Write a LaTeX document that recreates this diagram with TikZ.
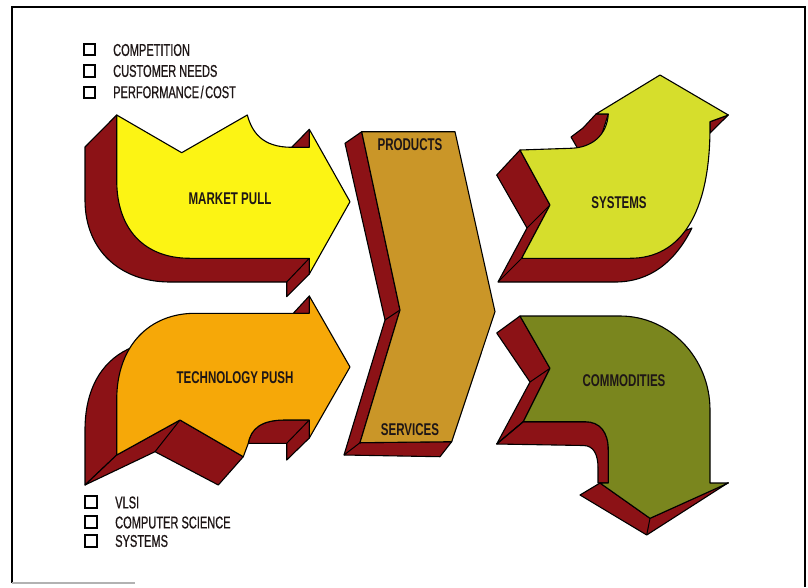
\documentclass[tikz,border=0pt]{standalone}
\usepackage{fontspec}
\setmainfont{Liberation Sans}
\newfontfamily\itemff{Liberation Sans}[FakeStretch=0.65,FakeBold=0.7]
\newfontfamily\labff{Liberation Sans}[FakeStretch=0.68]
\definecolor{maroon}{RGB}{140,18,22}
\definecolor{mpyellow}{RGB}{252,244,20}
\definecolor{tporange}{RGB}{246,168,8}
\definecolor{ctan}{RGB}{202,150,40}
\definecolor{sysgreen}{RGB}{214,222,44}
\definecolor{comolive}{RGB}{122,134,30}
\definecolor{txt}{RGB}{30,22,22}
\newcommand\itemfont{\itemff\fontsize{17}{17}\selectfont}
\newcommand\labfont{\labff\bfseries\fontsize{17}{17}\selectfont}
\tikzset{
  side/.style={fill=maroon,draw=black,line width=1.1pt,line join=round},
  face/.style={draw=black,line width=1.1pt,line join=round},
  edgeline/.style={draw=black,line width=1pt},
  lab/.style={font=\labfont,text=txt,inner sep=0pt},
  itemtext/.style={font=\itemfont,text=txt,inner sep=0pt,anchor=west},
  cbox/.style={draw=black,line width=1.6pt,minimum size=11.5pt,inner sep=0pt}
}
\begin{document}
\begin{tikzpicture}[x=1pt,y=-1pt]
\useasboundingbox (0,0) rectangle (808,587);
\fill[white] (0,0) rectangle (808,587);
% frame
\draw[line width=1.2pt] (12,583) -- (12,7) -- (805,7) -- (805,587);
\draw[gray!60,line width=1.5pt] (12,583) -- (135,583);

% ---------- MARKET PULL ----------
\draw[side] (116.7,115) -- (85,147) -- (85,200) .. controls (85,250) and (120,282) .. (170,282)
  -- (286.7,282) -- (286.7,296.7) -- (309.3,274) -- (309.3,258.3) -- (220,230) -- (140,150) -- cycle;
\draw[side] (291.7,147.3) -- (309.3,129.3) -- (309.3,147.3) -- cycle;
\draw[edgeline] (309.3,258.3) -- (286.7,282);
\draw[face,fill=mpyellow] (116.7,115) -- (181.7,152.7) -- (247.3,115)
  .. controls (252,132) and (262,147.3) .. (291.7,147.3) -- (309.3,147.3) -- (309.3,129.3)
  -- (350,201.7) -- (309.3,274) -- (309.3,258.3) -- (190,258.3)
  .. controls (145,258.3) and (116.7,230) .. (116.7,180) -- cycle;
\node[lab] (mp) at (230,199) {MARKET PULL};

% ---------- TECHNOLOGY PUSH ----------
\draw[side] (85,485) -- (85,430) .. controls (85,385) and (105,358) .. (133,347) -- (160,400) -- (116.7,455) -- cycle;
\draw[side] (85,485) -- (155,451.7) -- (218.3,485) -- (243.3,456.7) -- (180,420) -- (116.7,455) -- cycle;
\draw[edgeline] (180,420) -- (155,451.7);
\draw[side] (248.3,443.3) .. controls (251,428) and (262,420) .. (285,420) -- (309.3,420) -- (309.3,438)
  -- (286.7,460) -- (286.7,443.3) -- cycle;
\draw[edgeline] (309.3,420) -- (286.7,443.3);
\draw[side] (293.3,313.3) -- (309.3,296) -- (309.3,313.3) -- cycle;
\draw[face,fill=tporange] (116.7,455) -- (180,420) -- (243.3,456.7) -- (248.3,443.3)
  .. controls (251,428) and (262,420) .. (285,420) -- (309.3,420) -- (309.3,438)
  -- (350,367) -- (309.3,296) -- (309.3,313.3) -- (195,313.3)
  .. controls (150,313.3) and (116.7,345) .. (116.7,400) -- cycle;
\node[lab] (tp) at (235,378) {TECHNOLOGY PUSH};

% ---------- CENTRE CHEVRON ----------
\draw[side] (361.7,131.7) -- (345,143.3) -- (385,320) -- (344,455) -- (440,456.7) -- (451.7,441.7)
  -- (360,442.7) -- (400,310) -- cycle;
\draw[edgeline] (400,310) -- (385,320);
\draw[edgeline] (360,442.7) -- (344,455);
\draw[face,fill=ctan] (361.7,131.7) -- (455,131.7) -- (495,311.7) -- (451.7,441.7) -- (360,442.7) -- (400,310) -- cycle;
\node[lab] (prod) at (410,145) {PRODUCTS};
\node[lab] (serv) at (410,430) {SERVICES};

% ---------- SYSTEMS ----------
\draw[side] (520,150) -- (496.7,175) -- (527,228) -- (498,282) -- (615,282)
  .. controls (650,282) and (675,262) .. (692,228) -- (660,240) -- (521.7,258.3) -- (550,205) -- cycle;
\draw[edgeline] (550,205) -- (527,228);
\draw[edgeline] (521.7,258.3) -- (498,282);
\draw[side] (596,114) -- (608.3,114) -- (600,140) -- (578,149) -- (571,137) -- (583,128) -- cycle;
\draw[side] (728.3,115) -- (710,133) -- (710,121.7) -- cycle;
\draw[face,fill=sysgreen] (520,150) -- (570,148.3) .. controls (592,148) and (607,135) .. (608.3,114)
  -- (596,114) -- (660,75) -- (728.3,115) -- (710,121.7) -- (710,127)
  .. controls (710,215) and (680,258.3) .. (630,258.3) -- (521.7,258.3) -- (550,205) -- cycle;
\node[lab] (sys) at (619,202.5) {SYSTEMS};

% ---------- COMMODITIES ----------
\draw[side] (520,316) -- (496.7,333) -- (530,382) -- (496.7,444) -- (523.3,421.7) -- (550,368.3) -- cycle;
\draw[edgeline] (550,368.3) -- (530,382);
\draw[side] (523.3,421.7) -- (496.7,444) -- (583.3,445.5) .. controls (594,445.5) and (598,455) .. (598,468)
  -- (598,483) -- (608.3,483) -- (608.3,450) .. controls (608.3,432) and (600,421.7) .. (585,421.7) -- cycle;
\draw[edgeline] (523.3,421.7) -- (496.7,444);
\draw[side] (600,483) -- (580,495) -- (646.7,535) -- (728.3,482.7) -- (650,518.3) -- cycle;
\draw[edgeline] (650,518.3) -- (646.7,535);
\draw[face,fill=comolive] (520,316) -- (620,316) .. controls (669.7,316) and (710,358) .. (710,410)
  -- (710,483) -- (728.3,483) -- (650,518.3) -- (600,483) -- (608.3,483) -- (608.3,450)
  .. controls (608.3,432) and (600,421.7) .. (585,421.7) -- (523.3,421.7) -- (550,368.3) -- cycle;
\node[lab] (com) at (624,381) {COMMODITIES};

% ---------- LISTS ----------
\node[cbox] (b1) at (89.5,49.5) {};
\node[cbox] (b2) at (89.5,71) {};
\node[cbox] (b3) at (89.5,92.5) {};
\node[itemtext] (t1) at (113,50) {COMPETITION};
\node[itemtext] (t2) at (113,71) {CUSTOMER NEEDS};
\node[itemtext] (t3) at (113,92) {PERFORMANCE\kern1.5pt/\kern1.5pt COST};
\node[cbox] (b4) at (91,502) {};
\node[cbox] (b5) at (91,522) {};
\node[cbox] (b6) at (91,541) {};
\node[itemtext] (t4) at (115,502.5) {VLSI};
\node[itemtext] (t5) at (115,522.5) {COMPUTER SCIENCE};
\node[itemtext] (t6) at (115,541) {SYSTEMS};
\end{tikzpicture}
\end{document}
